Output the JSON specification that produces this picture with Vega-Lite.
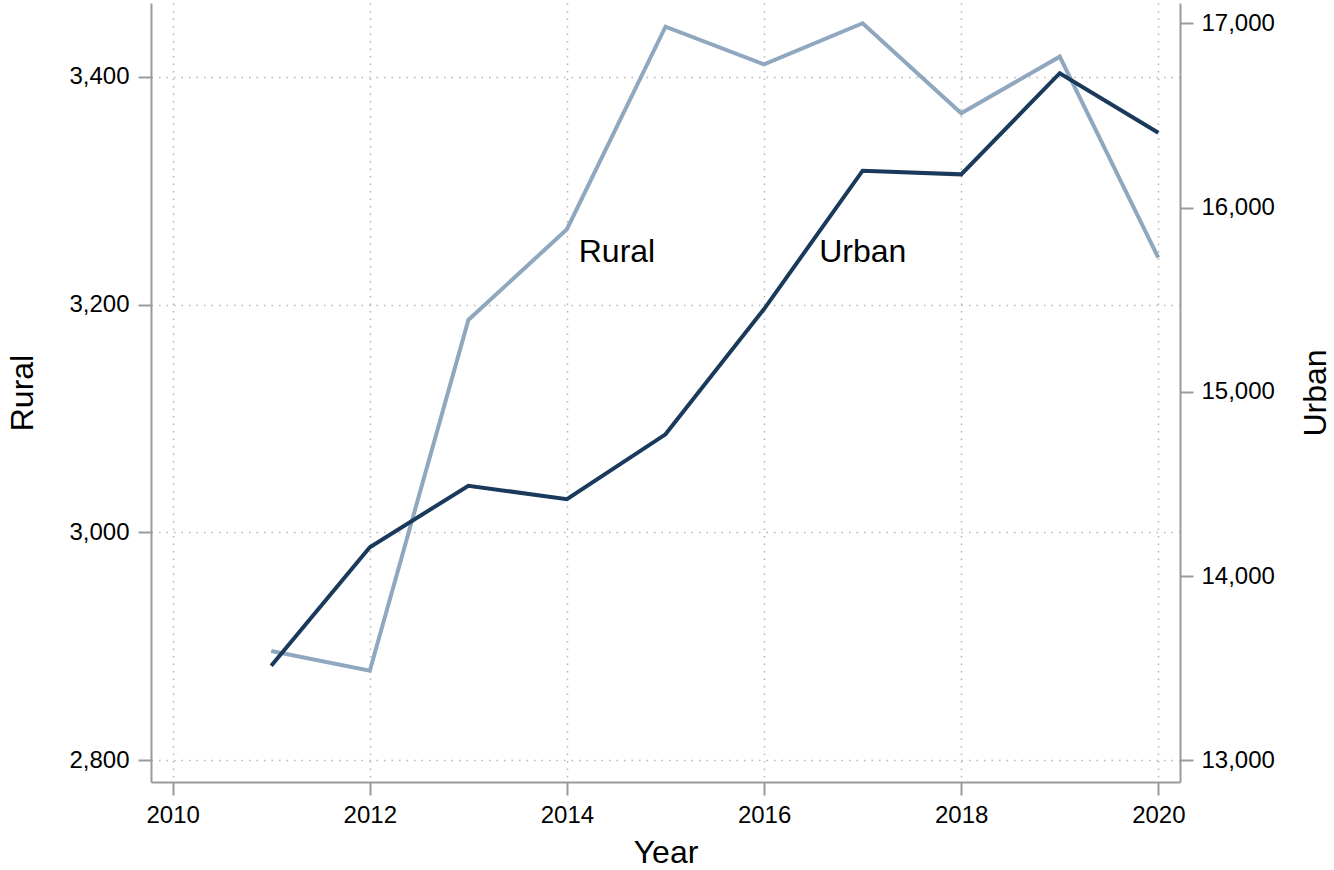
{
  "$schema": "https://vega.github.io/schema/vega-lite/v6.json",
  "autosize": "none",
  "padding": {"left": 151, "top": 3, "right": 154, "bottom": 88},
  "width": 1029,
  "height": 779,
  "background": "white",
  "datasets": {
    "series": [
      {"year": 2011, "rural": 2895.9, "urban": 13513},
      {"year": 2012, "rural": 2878.6, "urban": 14156},
      {"year": 2013, "rural": 3186.5, "urban": 14490},
      {"year": 2014, "rural": 3266.1, "urban": 14417},
      {"year": 2015, "rural": 3443.9, "urban": 14769},
      {"year": 2016, "rural": 3410.9, "urban": 15449},
      {"year": 2017, "rural": 3446.9, "urban": 16200},
      {"year": 2018, "rural": 3367.9, "urban": 16180},
      {"year": 2019, "rural": 3417.6, "urban": 16729},
      {"year": 2020, "rural": 3241.1, "urban": 16406}
    ],
    "ruralLabel": [{"label": "Rural", "year": 2014.12, "value": 3237.6}],
    "urbanLabel": [{"label": "Urban", "year": 2016.56, "value": 15706}]
  },
  "config": {
    "view": {"stroke": null},
    "axis": {
      "domainColor": "#9a9a9a",
      "domainWidth": 2,
      "tickColor": "#9a9a9a",
      "tickWidth": 2,
      "tickSize": 13,
      "labelFont": "Liberation Sans",
      "labelFontSize": 24,
      "labelColor": "#000000",
      "titleFont": "Liberation Sans",
      "titleFontSize": 32,
      "titleFontWeight": "normal",
      "titleColor": "#000000",
      "gridColor": "#b5b5b5",
      "gridDash": [1.5, 6],
      "gridWidth": 1.5
    }
  },
  "layer": [
    {
      "data": {"name": "series"},
      "mark": {"type": "line", "color": "#8fa7bf", "strokeWidth": 4},
      "encoding": {
        "x": {
          "field": "year", "type": "quantitative",
          "scale": {"domain": [2009.78, 2020.22], "nice": false, "zero": false},
          "axis": {
            "title": "Year", "orient": "bottom", "values": [2010, 2012, 2014, 2016, 2018, 2020],
            "format": "d", "grid": true, "labelBaseline": "alphabetic", "labelPadding": 27,
            "titleBaseline": "alphabetic", "titleY": 80
          }
        },
        "y": {
          "field": "rural", "type": "quantitative",
          "scale": {"domain": [2780.9, 3464.7], "nice": false, "zero": false},
          "axis": {
            "title": "Rural", "orient": "left", "values": [2800, 3000, 3200, 3400],
            "format": ",.0f", "grid": true, "labelPadding": 9,
            "titleBaseline": "alphabetic", "titleX": -119, "titleAngle": -90
          }
        }
      }
    },
    {
      "data": {"name": "ruralLabel"},
      "mark": {"type": "text", "align": "left", "baseline": "alphabetic", "font": "Liberation Sans", "fontSize": 32, "color": "#000000"},
      "encoding": {
        "x": {"field": "year", "type": "quantitative", "scale": {"domain": [2009.78, 2020.22], "nice": false, "zero": false}},
        "y": {"field": "value", "type": "quantitative", "scale": {"domain": [2780.9, 3464.7], "nice": false, "zero": false}, "axis": null},
        "text": {"field": "label"}
      }
    },
    {
      "data": {"name": "series"},
      "mark": {"type": "line", "color": "#1a3a5c", "strokeWidth": 4},
      "encoding": {
        "x": {"field": "year", "type": "quantitative", "scale": {"domain": [2009.78, 2020.22], "nice": false, "zero": false}},
        "y": {
          "field": "urban", "type": "quantitative",
          "scale": {"domain": [12882, 17110], "nice": false, "zero": false},
          "axis": {
            "title": "Urban", "orient": "right", "values": [13000, 14000, 15000, 16000, 17000],
            "format": ",.0f", "grid": false, "labelPadding": 8,
            "titleBaseline": "alphabetic", "titleX": 145, "titleAngle": -90
          }
        }
      }
    },
    {
      "data": {"name": "urbanLabel"},
      "mark": {"type": "text", "align": "left", "baseline": "alphabetic", "font": "Liberation Sans", "fontSize": 32, "color": "#000000"},
      "encoding": {
        "x": {"field": "year", "type": "quantitative", "scale": {"domain": [2009.78, 2020.22], "nice": false, "zero": false}},
        "y": {"field": "value", "type": "quantitative", "scale": {"domain": [12882, 17110], "nice": false, "zero": false}, "axis": null},
        "text": {"field": "label"}
      }
    }
  ],
  "resolve": {"scale": {"y": "independent"}, "axis": {"y": "independent"}}
}
